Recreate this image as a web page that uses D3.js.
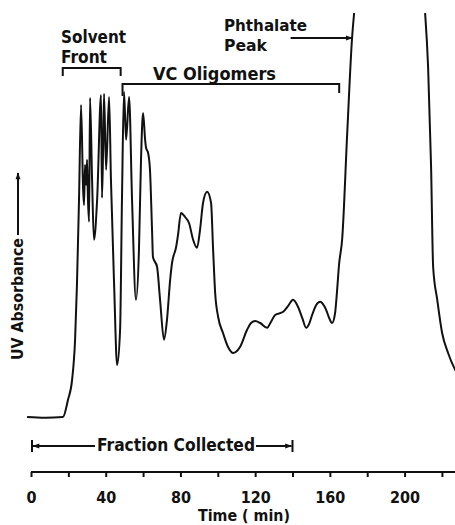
<!DOCTYPE html>
<html>
<head>
<meta charset="utf-8">
<script src="https://cdn.jsdelivr.net/npm/d3@7"></script>
<style>
  body { margin: 0; background: #fff; }
  svg { display: block; }
  text { font-family: "DejaVu Sans Condensed", "DejaVu Sans", sans-serif; font-weight: bold; fill: #111; }
  .trace { fill: none; stroke: #111; stroke-width: 2; stroke-linejoin: round; }
  .ann { fill: none; stroke: #111; stroke-width: 2; }
</style>
</head>
<body>
<svg id="chart" width="455" height="525"></svg>
<script>
// TIME (min) AND UV ABSORBANCE (arbitrary units)
const time_min = [-2.1, 7.5, 17.1, 19.8, 22.0, 23.6, 24.6, 25.7, 26.8, 27.9, 28.4, 28.9, 29.5, 30.0, 30.5, 31.1,
  31.6, 32.7, 33.7, 35.4, 37.5, 38.0, 38.6, 39.1, 40.2, 41.8, 42.8, 44.5, 46.1, 47.7, 48.7, 49.8, 50.9, 52.5,
  54.1, 56.2, 57.8, 58.9, 60.0, 61.1, 61.6, 62.7, 63.7, 64.8, 65.3, 67.5, 69.1, 71.2, 72.8, 74.5, 75.5, 77.7,
  78.7, 80.3, 82.5, 84.6, 86.8, 88.9, 90.5, 92.1, 94.3, 96.4, 97.5, 98.6, 100.2, 102.8, 105.5, 108.2, 109.8,
  111.9, 115.7, 117.8, 120.0, 122.7, 126.4, 128.5, 130.7, 135.0, 137.7, 140.3, 143.0, 145.2, 147.3, 148.9,
  150.5, 152.7, 154.8, 156.9, 158.0, 159.6, 161.2, 162.8, 163.9, 164.9, 166.6, 169.3, 171.9, 173.0, 175.1,
  192.3, 208.9, 211.0, 212.6, 214.2, 215.3, 217.5, 220.1, 223.3, 227.1, 229.8];
const absorbance = [0, -0.2, 0, 4.3, 9.3, 19.3, 33, 54.3, 78, 56.8, 53, 63, 58, 64.3, 54.3, 48.8,
  79.8, 59.3, 44.3, 54.3, 80.5, 54.8, 66.8, 80.8, 61.8, 80, 59.3, 33, 13, 21.8, 54.3, 81.3, 69.3, 80,
  54.3, 29.3, 41.8, 64.3, 76, 69.3, 67.3, 66, 61.8, 46.8, 40, 37.5, 29.3, 19.3, 24.3, 34.3, 38.5, 42.5,
  45.5, 51, 50, 48.5, 44.3, 42.3, 46.8, 53.5, 56.3, 53.5, 41.8, 31, 25, 21, 17.5, 16, 16.3,
  17.5, 21.8, 23.5, 24, 23.5, 22.3, 23.8, 25.5, 26.3, 27.8, 29.3, 27.5, 24.8, 22.3, 23.3,
  25.5, 28, 28.8, 27.8, 26.8, 24.8, 23.5, 26, 31.8, 38, 44.5, 71, 94.8, 101, 110.5,
  124, 110.5, 101, 87.5, 62.5, 37.5, 29.3, 21, 16, 11.8, 9.8];
const tick_values = [0, 20, 40, 60, 80, 100, 120, 140, 160, 180, 200, 220];
const tick_labels = ['0', '', '40', '', '80', '', '120', '', '160', '', '200', ''];
// BRACKETS AND ARROWS, IN MINUTES
const solvent_front = [17, 48];
const vc_oligomers = [49, 165];
const fraction_collected = [0, 140];
const phthalate_arrow = [139, 172];

const svg = d3.select('#chart');
const xScale = d3.scaleLinear().domain([0, 227]).range([31, 455]);
const yScale = d3.scaleLinear().domain([0, 100]).range([417, 17]);

svg.append('defs').append('clipPath').attr('id', 'clip')
  .append('rect').attr('x', 0).attr('y', 13).attr('width', 455).attr('height', 460);

const marker = svg.select('defs').append('marker')
  .attr('id', 'head').attr('viewBox', '0 0 10 10').attr('refX', 9).attr('refY', 5)
  .attr('markerWidth', 9).attr('markerHeight', 7).attr('markerUnits', 'userSpaceOnUse')
  .attr('orient', 'auto-start-reverse');
marker.append('path').attr('d', 'M0,1.5L10,5L0,8.5Z').attr('fill', '#111');

// TRACE
const points = time_min.map((t, i) => ({ t: t, a: absorbance[i] }));
const drawLine = d3.line()
  .x(d => xScale(d.t))
  .y(d => yScale(d.a))
  .curve(d3.curveMonotoneX);
svg.append('path').attr('class', 'trace').attr('clip-path', 'url(#clip)').attr('d', drawLine(points));

// X AXIS
const axis = svg.append('g').attr('transform', 'translate(0,472)')
  .call(d3.axisBottom(xScale).tickValues(tick_values).tickSize(5).tickSizeOuter(0)
    .tickFormat((d, i) => tick_labels[i]));
axis.select('.domain').attr('stroke', '#111').attr('stroke-width', 2).attr('d', 'M31,0H455');
axis.selectAll('.tick line').attr('stroke', '#111').attr('stroke-width', 2);
axis.selectAll('.tick text').attr('y', 20).attr('font-size', 16)
  .attr('font-family', '"DejaVu Sans Condensed", sans-serif').attr('font-weight', 'bold').attr('fill', '#111');
svg.append('text').attr('x', 244).attr('y', 521).attr('text-anchor', 'middle').attr('font-size', 16)
  .attr('textLength', 92).attr('lengthAdjust', 'spacingAndGlyphs').text('Time ( min)');

// Y LABEL AND ARROW
svg.append('text').attr('transform', 'translate(23,360) rotate(-90)').attr('font-size', 15)
  .attr('textLength', 122).attr('lengthAdjust', 'spacingAndGlyphs').text('UV Absorbance');
svg.append('line').attr('class', 'ann').attr('x1', 18).attr('x2', 18).attr('y1', 235).attr('y2', 173)
  .attr('marker-end', 'url(#head)');

// SOLVENT FRONT BRACKET
function bracket(range, y, drop1, drop2) {
  svg.append('path').attr('class', 'ann')
    .attr('d', `M${xScale(range[0])},${y + drop1}V${y}H${xScale(range[1])}V${y + drop2}`);
}
bracket(solvent_front, 68, 8, 8);
svg.append('text').attr('x', 61).attr('y', 43).attr('font-size', 17)
  .attr('textLength', 65).attr('lengthAdjust', 'spacingAndGlyphs').text('Solvent');
svg.append('text').attr('x', 61).attr('y', 63).attr('font-size', 17)
  .attr('textLength', 46).attr('lengthAdjust', 'spacingAndGlyphs').text('Front');

// VC OLIGOMERS BRACKET
bracket(vc_oligomers, 84, 12, 9);
svg.append('text').attr('x', 153).attr('y', 80).attr('font-size', 17)
  .attr('textLength', 123).attr('lengthAdjust', 'spacingAndGlyphs').text('VC Oligomers');

// PHTHALATE PEAK
svg.append('text').attr('x', 224).attr('y', 31).attr('font-size', 16)
  .attr('textLength', 83).attr('lengthAdjust', 'spacingAndGlyphs').text('Phthalate');
svg.append('text').attr('x', 224).attr('y', 51).attr('font-size', 16)
  .attr('textLength', 43).attr('lengthAdjust', 'spacingAndGlyphs').text('Peak');
svg.append('line').attr('class', 'ann').attr('x1', xScale(phthalate_arrow[0])).attr('x2', xScale(phthalate_arrow[1]))
  .attr('y1', 38).attr('y2', 38).attr('marker-end', 'url(#head)');

// FRACTION COLLECTED
const fx0 = xScale(fraction_collected[0]) + 1;
const fx1 = xScale(fraction_collected[1]);
svg.append('line').attr('class', 'ann').attr('x1', fx0).attr('x2', fx0).attr('y1', 440).attr('y2', 452);
svg.append('line').attr('class', 'ann').attr('x1', fx1).attr('x2', fx1).attr('y1', 440).attr('y2', 452);
svg.append('line').attr('class', 'ann').attr('x1', 95).attr('x2', fx0 + 1).attr('y1', 446).attr('y2', 446)
  .attr('marker-end', 'url(#head)');
svg.append('line').attr('class', 'ann').attr('x1', 256).attr('x2', fx1 - 1).attr('y1', 446).attr('y2', 446)
  .attr('marker-end', 'url(#head)');
svg.append('text').attr('x', 97).attr('y', 451).attr('font-size', 17)
  .attr('textLength', 158).attr('lengthAdjust', 'spacingAndGlyphs').text('Fraction Collected');
</script>
</body>
</html>
